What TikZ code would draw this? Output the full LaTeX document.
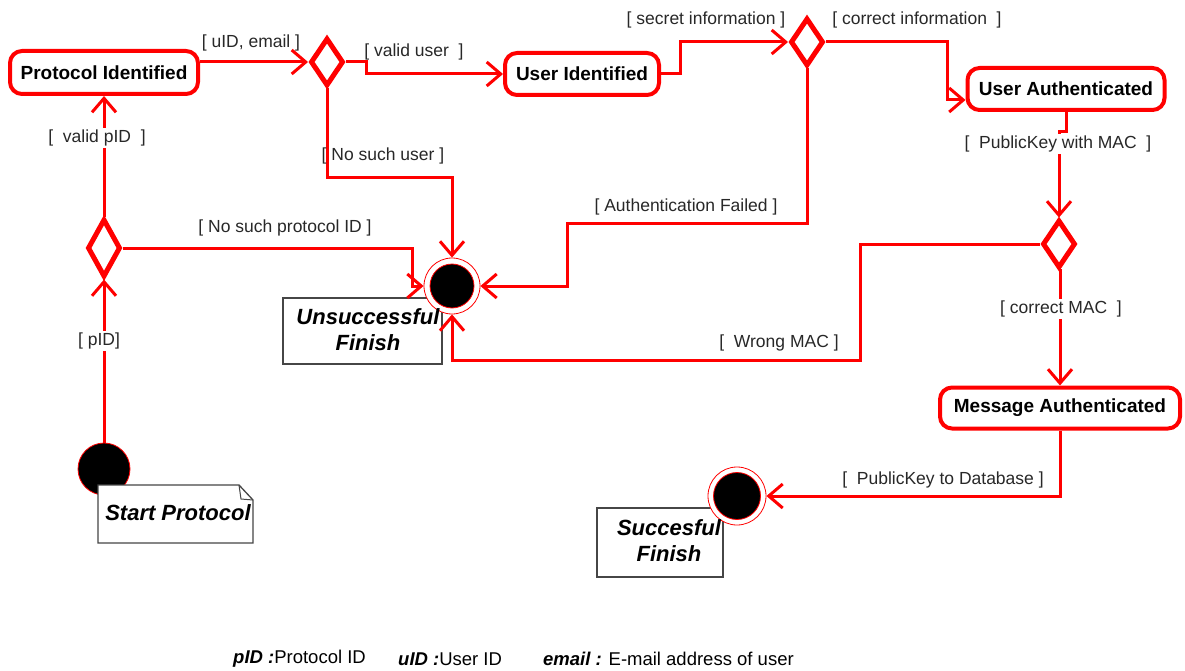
\documentclass[tikz,border=0pt]{standalone}
\usepackage{fontspec}
\setmainfont{Liberation Sans}
\usetikzlibrary{arrows.meta,shapes.geometric,calc}
\definecolor{rd}{RGB}{255,0,0}
\definecolor{notegray}{RGB}{70,70,70}
\definecolor{lblgray}{RGB}{40,40,40}
\begin{document}
\begin{tikzpicture}[x=1pt,y=-1pt,
  conn/.style={draw=rd,line width=3pt,-{Straight Barb[length=14pt,width=24pt]}},
  state/.style={draw=rd,line width=4pt,rounded corners=12pt,fill=white,
     font=\fontsize{19}{22}\selectfont\bfseries,inner sep=0pt},
  decision/.style={diamond,draw=rd,line width=5pt,fill=white,
     minimum width=33pt,minimum height=48pt,inner sep=0pt},
  glabel/.style={font=\fontsize{17.5}{20}\selectfont,text=lblgray,inner sep=1.5pt},
  glabelw/.style={glabel,fill=white},
  notebox/.style={draw=notegray,line width=1.3pt,fill=white},
  notetext/.style={font=\fontsize{22}{26}\selectfont\bfseries\itshape,align=center,inner sep=0pt},
  legend/.style={font=\fontsize{18.5}{21}\selectfont,anchor=west,inner sep=0pt}
]
\useasboundingbox (0,0) rectangle (1185,671);
\fill[white] (0,0) rectangle (1185,671);

% ---------- states ----------
\node[state,minimum width=188pt,minimum height=43pt] (pi) at (104,72.5) {Protocol Identified};
\node[state,minimum width=154pt,minimum height=42pt] (ui) at (582,74) {User Identified};
\node[state,minimum width=197pt,minimum height=42pt] (ua) at (1066,89) {User Authenticated};
\node[state,minimum width=240pt,minimum height=41pt] (ma) at (1060,408) {Message Authenticated};

% ---------- decisions ----------
\node[decision,minimum height=58pt] (d0) at (104,248) {};
\node[decision] (d1) at (327,62) {};
\node[decision] (d2) at (807,42) {};
\node[decision] (d3) at (1059,244) {};

% ---------- notes (behind circles where needed) ----------
\draw[notebox] (283,298) rectangle (442,364);
\draw[notebox] (597,508) rectangle (723,577);

% ---------- final / start circles ----------
\node[circle,draw=rd,line width=0.8pt,fill=white,minimum size=56pt,inner sep=0pt] (unsucc) at (452,286) {};
\node[circle,draw=rd,line width=0.8pt,fill=black,minimum size=44pt,inner sep=0pt] (unsuccin) at (unsucc.center) {};
\node[circle,draw=rd,line width=0.8pt,fill=white,minimum size=58pt,inner sep=0pt] (succ) at (737,496) {};
\node[circle,draw=rd,line width=0.8pt,fill=black,minimum size=47pt,inner sep=0pt] (succin) at (succ.center) {};
\node[circle,draw=rd,line width=0.8pt,fill=black,minimum size=52pt,inner sep=0pt] (start) at (104,469) {};

% start note drawn over the start circle
\draw[notebox] (98,485) -- (239,485) -- (253,500) -- (253,543) -- (98,543) -- cycle;
\draw[draw=notegray,line width=1pt] (239,485) -- (241,499) -- (253,500);

% note texts
\node[notetext] (tstart) at (178,513) {Start Protocol};
\node[notetext] (tunsucc) at (368,330) {Unsuccessful\\Finish};
\node[notetext] (tsucc) at (669,541) {Succesful\\Finish};

% ---------- coordinates for bends ----------
\coordinate (k1) at (412,286);
\coordinate (k2) at (452,178);
\coordinate (k3) at (947,100);
\coordinate (k4) at (567,223);
\coordinate (k5) at (860,360);

% ---------- connectors ----------
\draw[conn] (start.north) -- (d0.south);
\draw[conn] (d0.north) -- (pi.south);
\draw[conn] (d0.east) -| (k1) -- (unsucc.west);
\draw[conn] (pi.east |- d1.west) -- (d1.west);
\draw[conn] (d1.east) -- ++(20,0) |- (ui.west);
\draw[conn] (d1.south) |- (k2) -- (unsucc.north);
\draw[conn] (ui.east) -- ++(19,0) |- (d2.west);
\draw[conn] (d2.east) -| (k3) -- (k3 -| ua.west);
\draw[conn] (d2.south) |- (k4) |- (unsucc.east);
\draw[conn] (ua.south) -- ++(0,20) -| (d3.north);
\draw[conn] (d3.west) -| (k5) -| (unsucc.south);
\draw[conn] (d3.south) -- (d3.south -| ma.north) -- (ma.north);
\draw[conn] (ma.south) |- (succ.east);

% ---------- guard labels ----------
\node[glabel] (l1) at (251,43) {[ uID, email ]};
\node[glabel] (l2) at (414,52) {[ valid user\ \ ]};
\node[glabelw] (l3) at (97,138) {[\ \ valid pID\ \ ]};
\node[glabel] (l4) at (383,156) {[ No such user ]};
\node[glabel] (l5) at (285,228) {[ No such protocol ID ]};
\node[glabelw] (l6) at (99,341) {[ pID]};
\node[glabel] (l7) at (706,20) {[ secret information ]};
\node[glabel] (l8) at (917,20) {[ correct information\ \ ]};
\node[glabel] (l9) at (686,207) {[ Authentication Failed ]};
\node[glabelw] (l10) at (1058,144) {[\ \ PublicKey with MAC\ \ ]};
\node[glabelw] (l11) at (1061,309) {[ correct MAC\ \ ]};
\node[glabel] (l12) at (779,343) {[\ \ Wrong MAC ]};
\node[glabel] (l13) at (943,480) {[\ \ PublicKey to Database ]};

% ---------- legend ----------
\node[legend] (lg1) at (233,659) {\textbf{\textit{pID :}}Protocol ID};
\node[legend] (lg2) at (398,659) {\textbf{\textit{uID :}}User ID};
\node[legend] (lg3) at (543,659) {\textbf{\textit{email :}} E-mail address of user};
\end{tikzpicture}
\end{document}
